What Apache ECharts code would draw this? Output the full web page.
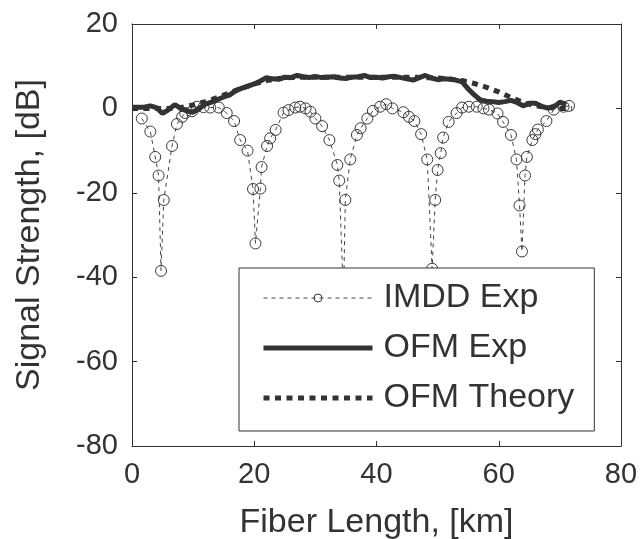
<!DOCTYPE html>
<html>
<head>
<meta charset="utf-8">
<script src="https://cdn.jsdelivr.net/npm/echarts@6.0.0/dist/echarts.min.js"></script>
<style>
  html, body { margin: 0; padding: 0; background: #fff; }
  #chart { width: 643px; height: 539px; }
</style>
</head>
<body>
<div id="chart"></div>
<script>
// IMDD measured points (km, dB)
const imddKm = [1.6, 3.0, 3.8, 4.35, 4.75, 5.2, 6.55, 7.35, 8.2, 8.7,
  9.8, 10.6, 11.7, 12.8, 14.2, 15.5, 16.7, 17.7, 18.9, 19.8,
  20.2, 21.0, 21.2, 22.1, 22.6, 23.5, 24.8, 25.6, 26.7, 27.5,
  28.4, 29.2, 30.0, 31.1, 32.3, 33.6, 33.9, 34.6, 34.9, 35.7,
  36.8, 37.4, 38.5, 39.4, 40.6, 41.6, 42.6, 44.4, 45.3, 46.2,
  47.3, 48.3, 49.1, 49.6, 50.0, 50.5, 50.9, 51.8, 53.1, 54.0,
  55.1, 56.4, 57.5, 58.4, 59.8, 60.7, 62.0, 62.9, 63.4, 63.8,
  64.3, 64.6, 65.5, 66.0, 66.4, 67.8, 69.0, 70.6, 71.5]
const imddDb = [-2.4, -5.5, -11.5, -15.9, -38.5, -21.7, -8.9, -3.7, -2.0, -1.1,
  -0.7, 0.4, 0.3, 0.2, 0.2, -1.1, -3.0, -7.5, -10.0, -19.1,
  -32.0, -19.0, -13.9, -8.9, -7.1, -5.1, -1.0, -0.4, 0.2, 0.4,
  0, -0.8, -2.4, -4.2, -7.5, -13.4, -17.1, -45, -21.7, -12.1,
  -6.3, -4.7, -2.4, -0.6, 0.4, 1.0, 0, -0.9, -2.0, -3.0,
  -6.1, -12.1, -38.0, -21.7, -14.6, -10.6, -6.9, -3.2, -1.1, 0.2,
  0.4, 0.4, 0, -0.3, -1.2, -3.2, -6.3, -12.1, -23.0, -33.9,
  -15.9, -11.5, -7.5, -6.1, -5.0, -3.0, -0.3, 0.4, 0.6]

// OFM measured
const ofmKm = [0, 1, 2, 3, 4, 5, 6, 7, 8, 9, 10, 11, 12, 13, 14, 15, 16, 17, 18, 19,
  20, 21, 22, 23, 24, 25, 26, 27, 28, 29, 30, 31, 32, 33, 34, 35, 36, 37, 38, 39,
  40, 41, 42, 43, 44, 45, 46, 47, 48, 49, 50, 51, 52, 53, 54, 55, 56, 57, 58, 59,
  60, 61, 62, 63, 64, 65, 66, 67, 68, 69, 70, 71]
const ofmDb = [0.3, 0.3, 0.3, 0.6, 0.2, -1.2, -0.3, 0.9, 0, -0.6, -0.9, 0, 1.0, 1.5, 2.1, 2.7, 3.2, 4.2, 4.8, 5.3,
  5.8, 6.5, 7.3, 7.0, 6.9, 7.4, 7.3, 7.8, 7.5, 7.3, 7.6, 7.3, 7.4, 7.5, 7.2, 7.1, 7.4, 7.5, 7.8, 7.3,
  7.4, 7.2, 7.5, 7.6, 7.3, 7.0, 6.7, 7.3, 7.8, 7.2, 6.8, 7.0, 6.9, 6.7, 6.3, 4.6, 3.2, 2.0, 1.7, 1.6,
  1.4, 1.6, 1.9, 1.4, 0.6, 1.2, 1.2, 0.5, 0.1, 0.3, 1.5, 0.8]

// OFM theory
const theoryKm = [0, 2, 4, 6, 8, 10, 12, 14, 16, 18, 20, 22, 24, 26, 28, 30, 32, 34, 36,
  38, 40, 42, 44, 46, 48, 50, 52, 54, 56, 58, 60, 62, 64, 66, 68, 70, 72]
const theoryDb = [0, 0, 0, 0, 0.2, 0.8, 1.6, 2.6, 3.7, 4.8, 5.8, 6.6, 7.1, 7.3, 7.4, 7.4, 7.4, 7.4, 7.4,
  7.4, 7.4, 7.4, 7.4, 7.4, 7.3, 7.2, 7.0, 6.6, 5.9, 5.0, 3.9, 2.6, 1.4, 0.6, 0.2, 0, 0]

const xTicks = { min: 0, max: 80, interval: 20 }
const yTicks = { min: -80, max: 20, interval: 20 }

const FONT = '"Liberation Sans", Arial, Helvetica, sans-serif'
const INK = '#333333'

function pairs(xs, ys) {
  return xs.map(function (x, i) { return [x, ys[i]] })
}

const axisLine = { show: true, onZero: false, lineStyle: { color: INK, width: 1 } }
const axisTick = { show: true, inside: true, length: 5, lineStyle: { color: INK, width: 1 } }

const imddLine = { color: '#444', width: 1, type: [4, 4] }
const ofmLine = { color: INK, width: 5 }
const theoryLine = { color: INK, width: 5, type: [6, 5.5], cap: 'butt' }

const chart = echarts.init(document.getElementById('chart'))

const option = {
  animation: false,
  backgroundColor: '#fff',
  grid: { left: 132, right: 22, top: 24, bottom: 93, containLabel: false, outerBoundsMode: 'none' },
  legend: {
    orient: 'vertical',
    left: 239,
    top: 268,
    padding: [13, 20, 16, 22],
    backgroundColor: '#fff',
    borderColor: INK,
    borderWidth: 1,
    borderRadius: 0,
    itemWidth: 109,
    itemHeight: 10,
    itemGap: 16,
    textStyle: { fontSize: 34, color: INK, fontFamily: FONT, padding: [0, 0, 0, 6] },
    data: [
      { name: 'IMDD Exp', lineStyle: imddLine,
        itemStyle: { color: 'rgba(0,0,0,0)', borderColor: '#3a3a3a', borderWidth: 1 } },
      { name: 'OFM Exp', lineStyle: ofmLine, itemStyle: { opacity: 0 } },
      { name: 'OFM Theory', lineStyle: theoryLine, itemStyle: { opacity: 0 } }
    ]
  },
  xAxis: [
    {
      type: 'value', position: 'bottom',
      min: xTicks.min, max: xTicks.max, interval: xTicks.interval,
      axisLine: axisLine, axisTick: axisTick,
      splitLine: { show: false },
      axisLabel: { fontSize: 29, color: INK, fontFamily: FONT, margin: 14 },
      name: 'Fiber Length, [km]', nameLocation: 'middle', nameGap: 60,
      nameTextStyle: { fontSize: 34, color: INK, fontFamily: FONT }
    },
    {
      type: 'value', position: 'top',
      min: xTicks.min, max: xTicks.max, interval: xTicks.interval,
      axisLine: axisLine, axisTick: axisTick,
      splitLine: { show: false }, axisLabel: { show: false }
    }
  ],
  yAxis: [
    {
      type: 'value', position: 'left',
      min: yTicks.min, max: yTicks.max, interval: yTicks.interval,
      axisLine: axisLine, axisTick: axisTick,
      splitLine: { show: false },
      axisLabel: { fontSize: 29, color: INK, fontFamily: FONT, margin: 14 },
      name: 'Signal Strength, [dB]', nameLocation: 'middle', nameGap: 85, nameRotate: 90,
      nameTextStyle: { fontSize: 34, color: INK, fontFamily: FONT }
    },
    {
      type: 'value', position: 'right',
      min: yTicks.min, max: yTicks.max, interval: yTicks.interval,
      axisLine: axisLine, axisTick: axisTick,
      splitLine: { show: false }, axisLabel: { show: false }
    }
  ],
  series: [
    {
      name: 'IMDD Exp',
      type: 'line',
      data: pairs(imddKm, imddDb),
      symbol: 'circle',
      symbolSize: 11,
      showAllSymbol: true,
      itemStyle: { color: 'rgba(0,0,0,0)', borderColor: '#3a3a3a', borderWidth: 1 },
      lineStyle: imddLine,
      emphasis: { disabled: true },
      z: 2
    },
    {
      name: 'OFM Theory',
      type: 'line',
      data: pairs(theoryKm, theoryDb),
      symbol: 'none',
      itemStyle: { color: INK },
      lineStyle: theoryLine,
      emphasis: { disabled: true },
      z: 3
    },
    {
      name: 'OFM Exp',
      type: 'line',
      data: pairs(ofmKm, ofmDb),
      symbol: 'none',
      itemStyle: { color: INK },
      lineStyle: ofmLine,
      emphasis: { disabled: true },
      z: 4
    }
  ]
}

chart.setOption(option)
</script>
</body>
</html>
